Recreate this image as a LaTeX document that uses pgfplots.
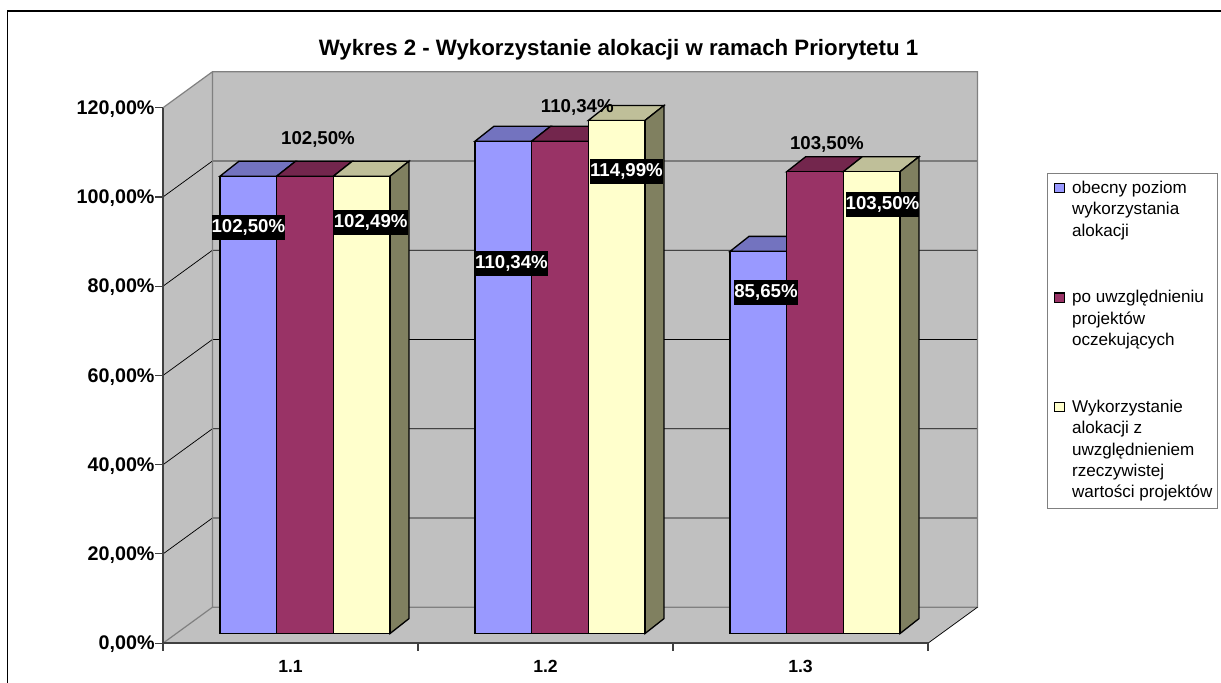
\documentclass[border=0pt]{standalone}
\usepackage{pgfplots}
\pgfplotsset{compat=1.18}
\usepackage{fontspec}
\setmainfont{Liberation Sans}
\definecolor{wall}{HTML}{C0C0C0}
\definecolor{edge}{HTML}{808080}
\definecolor{axl}{HTML}{404040}
\definecolor{cb}{HTML}{9999FF}
\definecolor{cbt}{HTML}{7373BF}
\definecolor{cp}{HTML}{993366}
\definecolor{cpt}{HTML}{73264D}
\definecolor{cy}{HTML}{FFFFCC}
\definecolor{cyt}{HTML}{BFBF99}
\definecolor{cys}{HTML}{808060}
% 1 image pixel = 0.75pt
\newcommand{\fs}[1]{\fontsize{#1}{#1}\selectfont}
\newcommand{\legtext}[1]{\parbox[t]{103.8pt}{\raggedright\baselineskip=16.1pt #1}}
\begin{document}
\begin{tikzpicture}
\path[use as bounding box] (0,0) rectangle (915.75pt,511.5pt);
\fill[white] (0,0) rectangle (915.75pt,511.5pt);
\draw[black,line width=0.9pt] (5.6pt,-2pt) -- (5.6pt,503.2pt) -- (918pt,503.2pt);
% ---- frame of the chart: walls, floor, grid
\begin{axis}[
  name=walls,
  at={(122.25pt,29.1pt)}, anchor=south west,
  scale only axis, width=573.75pt, height=401.6pt,
  xmin=0, xmax=3, ymin=0, ymax=120,
  clip=false, axis on top,
  axis x line=bottom, axis y line=left,
  axis line style={-, color=axl, line width=1.1pt},
  tick align=outside,
  ytick={0,20,40,60,80,100,120},
  yticklabels={{0,00\%},{20,00\%},{40,00\%},{60,00\%},{80,00\%},{100,00\%},{120,00\%}},
  xtick={0.5,1.5,2.5}, xticklabels={1.1,1.2,1.3},
  minor xtick={0,1,2,3},
  major x tick style={draw=none},
  minor x tick style={color=axl, line width=0.8pt},
  major y tick style={color=axl, line width=0.8pt},
  tick style={color=axl},
  major tick length=5.8pt, minor tick length=5.8pt,
  yticklabel style={font=\fs{14.8}\bfseries, xshift=3pt, yshift=-1pt},
  xticklabel style={font=\fs{13.2}\bfseries, yshift=-3.5pt},
]
\addplot[fill=wall,draw=none,forget plot] coordinates {(0,0)(0,120)(0.1941,128.07)(0.1941,8.07)} --cycle;
\addplot[fill=wall,draw=none,forget plot] coordinates {(0.1941,8.07)(0.1941,128.07)(3.1941,128.07)(3.1941,8.07)} --cycle;
\addplot[fill=wall,draw=none,forget plot] coordinates {(0,0)(3,0)(3.1941,8.07)(0.1941,8.07)} --cycle;
\addplot[black,line width=0.55pt,forget plot] coordinates {(0,20)(0.1941,28.07)(3.1941,28.07)};
\addplot[black,line width=0.55pt,forget plot] coordinates {(0,40)(0.1941,48.07)(3.1941,48.07)};
\addplot[black,line width=0.55pt,forget plot] coordinates {(0,60)(0.1941,68.07)(3.1941,68.07)};
\addplot[black,line width=0.55pt,forget plot] coordinates {(0,80)(0.1941,88.07)(3.1941,88.07)};
\addplot[black,line width=0.55pt,forget plot] coordinates {(0,100)(0.1941,108.07)(3.1941,108.07)};
\addplot[edge,line width=0.9pt,forget plot] coordinates {(0,120)(0.1941,128.07)(3.1941,128.07)(3.1941,8.07)(0.1941,8.07)(0.1941,128.07)};
\addplot[edge,line width=0.9pt,forget plot] coordinates {(0,0)(0.1941,8.07)};
\addplot[black,line width=0.55pt,forget plot] coordinates {(3,0)(3.1941,8.07)};
\end{axis}
\node[font=\fs{16.7}\bfseries,anchor=center] at (463.9pt,474.5pt) {Wykres 2 - Wykorzystanie alokacji w ramach Priorytetu 1};
% ---- bars: same scale, base on the floor of the chart
\begin{axis}[
  at={(133.1pt,36.3pt)}, anchor=south west,
  scale only axis, width=573.75pt, height=401.6pt,
  xmin=0, xmax=3, ymin=0, ymax=120,
  clip=false, hide axis,
  legend style={at={(1.1366,0.8596)},anchor=north west,draw=edge,line width=0.7pt,fill=white,
    font=\fs{12.8},inner sep=0pt,inner xsep=5pt,inner ysep=5.2pt,row sep=38pt,
    nodes={inner sep=0pt,anchor=base west,text depth={}}},
  legend cell align=left,
  legend image code/.code={\draw[#1,line width=0.8pt,draw=black] (0pt,0.2pt) rectangle (7pt,7.2pt);\path (0pt,0pt) (12.5pt,0pt);},
]
% blue series
\addplot[fill=cbt,draw=black,line width=1pt,forget plot] coordinates {(0.1667,102.50)(0.2412,105.86)(0.4634,105.86)(0.3889,102.50)} --cycle;
\addplot[fill=cbt,draw=black,line width=1pt,forget plot] coordinates {(1.1667,110.34)(1.2412,113.70)(1.4634,113.70)(1.3889,110.34)} --cycle;
\addplot[fill=cbt,draw=black,line width=1pt,forget plot] coordinates {(2.1667,85.65)(2.2412,89.01)(2.4634,89.01)(2.3889,85.65)} --cycle;
\addplot[ybar,bar width=0.2222,bar shift=-0.2222,fill=cb,draw=black,line width=1pt] coordinates {(0.5,102.50)(1.5,110.34)(2.5,85.65)};
\addlegendentry{\legtext{obecny poziom\\wykorzystania\\alokacji}}
% purple series
\addplot[fill=cpt,draw=black,line width=1pt,forget plot] coordinates {(0.3889,102.50)(0.4634,105.86)(0.6856,105.86)(0.6111,102.50)} --cycle;
\addplot[fill=cpt,draw=black,line width=1pt,forget plot] coordinates {(1.3889,110.34)(1.4634,113.70)(1.6856,113.70)(1.6111,110.34)} --cycle;
\addplot[fill=cpt,draw=black,line width=1pt,forget plot] coordinates {(2.3889,103.50)(2.4634,106.86)(2.6856,106.86)(2.6111,103.50)} --cycle;
\addplot[ybar,bar width=0.2222,bar shift=0,fill=cp,draw=black,line width=1pt] coordinates {(0.5,102.50)(1.5,110.34)(2.5,103.50)};
\addlegendentry{\legtext{\mbox{po uwzględnieniu}\\projektów\\oczekujących}}
% yellow series
\addplot[fill=cyt,draw=black,line width=1pt,forget plot] coordinates {(0.6111,102.49)(0.6856,105.85)(0.9078,105.85)(0.8333,102.49)} --cycle;
\addplot[fill=cyt,draw=black,line width=1pt,forget plot] coordinates {(1.6111,114.99)(1.6856,118.35)(1.9078,118.35)(1.8333,114.99)} --cycle;
\addplot[fill=cyt,draw=black,line width=1pt,forget plot] coordinates {(2.6111,103.50)(2.6856,106.86)(2.9078,106.86)(2.8333,103.50)} --cycle;
\addplot[fill=cys,draw=black,line width=1pt,forget plot] coordinates {(0.8333,0)(0.9078,3.36)(0.9078,105.85)(0.8333,102.49)} --cycle;
\addplot[fill=cys,draw=black,line width=1pt,forget plot] coordinates {(1.8333,0)(1.9078,3.36)(1.9078,118.35)(1.8333,114.99)} --cycle;
\addplot[fill=cys,draw=black,line width=1pt,forget plot] coordinates {(2.8333,0)(2.9078,3.36)(2.9078,106.86)(2.8333,103.50)} --cycle;
\addplot[ybar,bar width=0.2222,bar shift=0.2222,fill=cy,draw=black,line width=1pt] coordinates {(0.5,102.49)(1.5,114.99)(2.5,103.50)};
\addlegendentry{\legtext{Wykorzystanie\\alokacji z\\uwzględnieniem\\rzeczywistej\\\mbox{wartości projektów}}}
% data labels
\tikzset{dl/.style={fill=black,text=white,font=\fs{14}\bfseries,inner xsep=0pt,inner ysep=0pt,minimum width=54.75pt,minimum height=18.5pt,anchor=center},
  pl/.style={text=black,font=\fs{14}\bfseries,inner sep=0pt,anchor=center}}
\node[dl] at (axis cs:0.278,91.0) {102,50\%};
\node[dl] at (axis cs:0.7576,92.1) {102,49\%};
\node[dl] at (axis cs:1.31,82.9) {110,34\%};
\node[dl] at (axis cs:1.7608,103.5) {114,99\%};
\node[dl,minimum width=46.5pt] at (axis cs:2.3078,76.4) {85,65\%};
\node[dl] at (axis cs:2.7647,96.1) {103,50\%};
\node[pl] at (axis cs:0.551,110.8) {102,50\%};
\node[pl] at (axis cs:1.568,118.0) {110,34\%};
\node[pl] at (axis cs:2.547,109.6) {103,50\%};
\end{axis}
\end{tikzpicture}
\end{document}
